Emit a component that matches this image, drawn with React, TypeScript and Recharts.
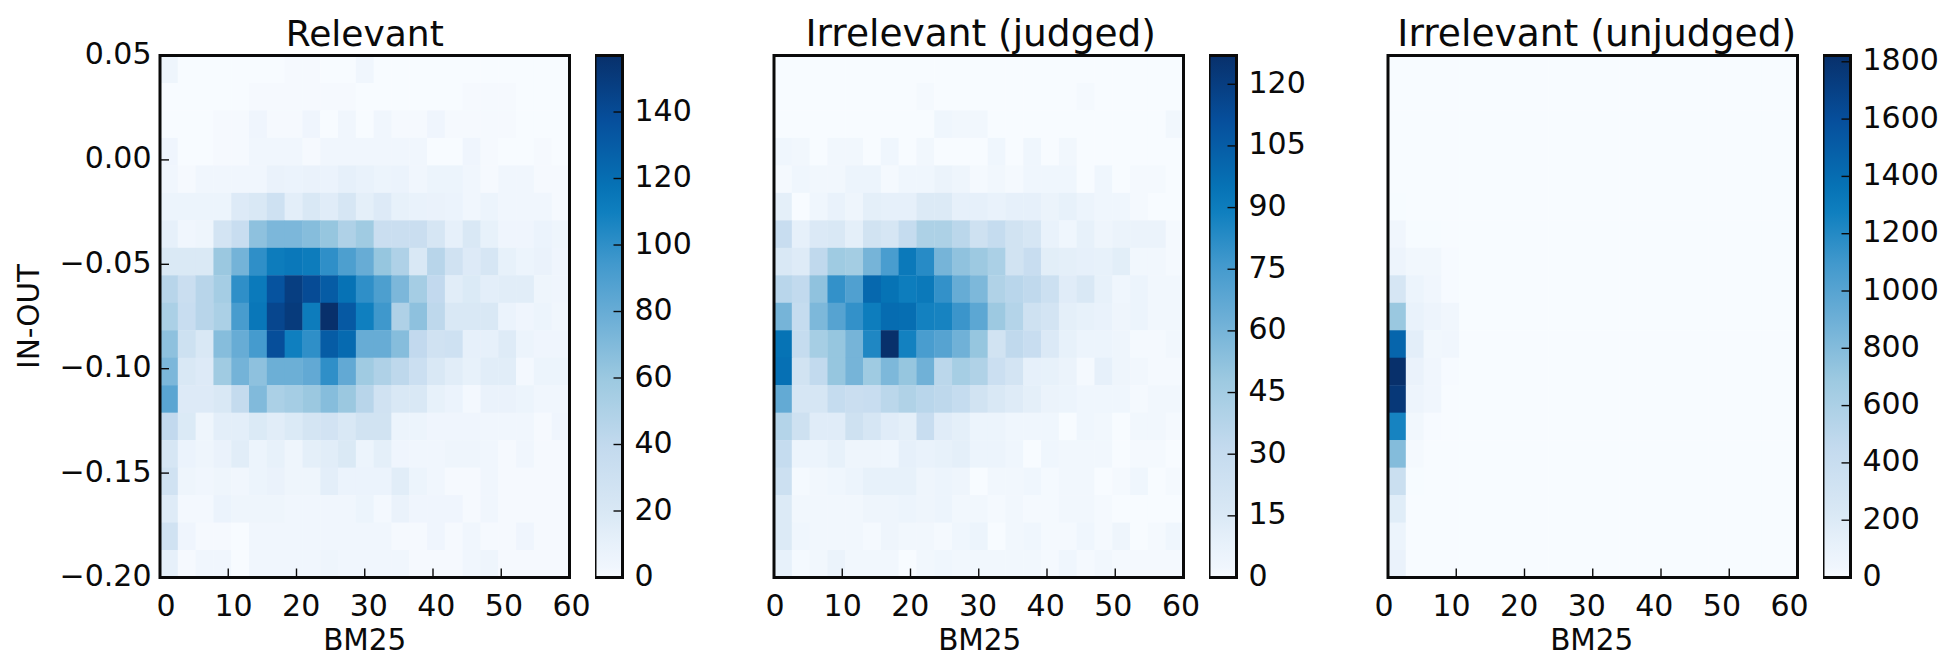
import React from 'react';
import { ScatterChart, Scatter, XAxis, YAxis, ReferenceArea, BarChart, Bar } from 'recharts';

const bm25Ticks = [0, 10, 20, 30, 40, 50, 60];
const inOutTicks = [-0.2, -0.15, -0.1, -0.05, 0, 0.05];
const BM25_DOMAIN: [number, number] = [0, 60];
const INOUT_DOMAIN: [number, number] = [-0.2, 0.05];

const relevantTicks = [0, 20, 40, 60, 80, 100, 120, 140];
const judgedTicks = [0, 15, 30, 45, 60, 75, 90, 105, 120];
const unjudgedTicks = [0, 200, 400, 600, 800, 1000, 1200, 1400, 1600, 1800];
const RELEVANT_MAX = 157;
const JUDGED_MAX = 127;
const UNJUDGED_MAX = 1822;

// rows from the top (IN-OUT 0.05) to the bottom (-0.20), 23 BM25 bins each
const relevant = [
  [5, 0, 0, 0, 0, 0, 0, 1, 1, 0, 0, 3, 0, 0, 0, 0, 0, 0, 0, 0, 0, 0, 0],
  [0, 0, 0, 0, 0, 1, 1, 1, 1, 1, 1, 0, 0, 0, 0, 0, 0, 1, 1, 1, 0, 0, 0],
  [0, 0, 0, 1, 1, 4, 1, 1, 4, 0, 3, 0, 3, 1, 1, 4, 1, 1, 1, 1, 0, 0, 0],
  [4, 0, 0, 1, 1, 3, 3, 3, 1, 3, 3, 3, 3, 3, 3, 0, 0, 4, 1, 0, 0, 1, 0],
  [3, 1, 3, 3, 3, 3, 8, 7, 8, 7, 11, 9, 6, 7, 3, 6, 6, 3, 1, 3, 3, 1, 1],
  [6, 6, 6, 6, 17, 20, 29, 13, 20, 15, 22, 12, 17, 10, 9, 8, 7, 3, 6, 3, 3, 3, 1],
  [11, 3, 5, 25, 35, 65, 72, 72, 68, 62, 50, 58, 33, 33, 33, 22, 11, 20, 10, 4, 4, 7, 5],
  [19, 19, 19, 60, 75, 100, 112, 114, 112, 100, 90, 80, 62, 50, 20, 45, 28, 17, 22, 10, 6, 8, 4],
  [45, 33, 45, 55, 100, 113, 135, 148, 140, 130, 118, 100, 90, 72, 55, 40, 14, 18, 13, 14, 14, 5, 4],
  [52, 35, 45, 52, 92, 115, 143, 150, 112, 157, 132, 110, 95, 50, 65, 42, 20, 20, 20, 7, 4, 6, 3],
  [65, 30, 20, 68, 80, 93, 138, 110, 100, 130, 122, 80, 80, 68, 40, 28, 29, 11, 11, 16, 6, 4, 4],
  [72, 20, 17, 58, 75, 65, 78, 78, 82, 100, 82, 58, 50, 42, 32, 20, 14, 10, 14, 14, 2, 6, 6],
  [85, 17, 17, 20, 38, 70, 52, 55, 60, 68, 60, 45, 28, 20, 20, 10, 7, 2, 8, 8, 6, 3, 3],
  [40, 18, 5, 13, 13, 18, 14, 18, 24, 26, 20, 27, 27, 6, 6, 4, 4, 4, 3, 3, 3, 1, 4],
  [22, 7, 5, 8, 14, 6, 10, 5, 12, 14, 19, 6, 12, 4, 3, 3, 5, 5, 3, 1, 3, 1, 1],
  [28, 5, 3, 5, 3, 6, 8, 5, 5, 13, 7, 7, 7, 14, 6, 3, 1, 1, 3, 1, 1, 1, 1],
  [16, 2, 2, 7, 5, 5, 5, 3, 3, 3, 3, 6, 2, 8, 4, 4, 4, 1, 3, 1, 1, 1, 1],
  [28, 4, 1, 1, 0, 3, 3, 3, 3, 3, 3, 3, 3, 1, 1, 4, 1, 3, 1, 1, 4, 1, 1],
  [11, 1, 3, 3, 0, 3, 3, 3, 3, 5, 3, 3, 3, 3, 1, 1, 1, 3, 5, 1, 1, 1, 1],
];

const judged = [
  [0, 0, 0, 0, 0, 0, 0, 0, 0, 0, 0, 0, 0, 0, 0, 0, 0, 0, 0, 0, 0, 0, 0],
  [0, 0, 0, 0, 0, 0, 0, 0, 1, 0, 0, 0, 0, 0, 0, 0, 0, 1, 0, 0, 0, 0, 0],
  [0, 0, 0, 0, 0, 0, 0, 0, 0, 3, 2, 2, 0, 0, 0, 0, 0, 0, 0, 0, 0, 0, 2],
  [3, 2, 0, 2, 2, 0, 3, 0, 2, 0, 0, 0, 3, 0, 3, 0, 2, 0, 0, 0, 0, 0, 0],
  [1, 3, 2, 2, 5, 5, 1, 3, 3, 6, 4, 1, 2, 1, 3, 3, 3, 0, 3, 0, 1, 1, 0],
  [10, 0, 3, 7, 4, 10, 9, 9, 14, 14, 9, 9, 7, 9, 9, 6, 8, 5, 3, 3, 1, 0, 0],
  [28, 9, 15, 16, 10, 22, 18, 30, 41, 41, 35, 24, 30, 22, 18, 7, 3, 8, 4, 6, 6, 6, 1],
  [16, 13, 33, 47, 45, 60, 74, 92, 83, 60, 52, 48, 42, 22, 28, 11, 10, 9, 8, 11, 2, 2, 1],
  [36, 32, 52, 80, 72, 100, 95, 90, 92, 80, 65, 58, 40, 36, 33, 25, 12, 16, 8, 3, 5, 2, 2],
  [60, 30, 58, 70, 80, 90, 98, 97, 88, 87, 78, 68, 48, 38, 24, 20, 10, 8, 7, 4, 5, 2, 2],
  [95, 30, 44, 50, 60, 85, 127, 88, 74, 70, 62, 50, 22, 33, 28, 15, 8, 5, 5, 4, 1, 1, 2],
  [96, 22, 32, 50, 60, 47, 58, 50, 62, 35, 44, 40, 26, 20, 9, 8, 6, 1, 9, 4, 2, 1, 1],
  [66, 18, 18, 30, 27, 28, 35, 40, 36, 34, 30, 22, 16, 13, 10, 6, 5, 3, 3, 3, 1, 2, 2],
  [38, 24, 12, 12, 24, 18, 12, 10, 28, 12, 10, 5, 5, 3, 3, 3, 0, 3, 2, 0, 2, 2, 1],
  [30, 5, 5, 8, 4, 4, 3, 9, 7, 8, 10, 5, 5, 3, 0, 3, 2, 2, 2, 0, 1, 1, 0],
  [25, 1, 2, 3, 5, 8, 8, 8, 4, 5, 4, 0, 2, 2, 3, 1, 2, 2, 0, 1, 3, 0, 1],
  [14, 2, 2, 2, 2, 4, 4, 5, 4, 5, 2, 2, 1, 2, 1, 1, 2, 2, 1, 0, 0, 0, 0],
  [14, 3, 2, 2, 2, 1, 4, 2, 2, 1, 3, 5, 0, 2, 3, 1, 1, 3, 1, 4, 0, 1, 3],
  [8, 1, 2, 6, 2, 2, 2, 0, 2, 3, 2, 2, 2, 2, 2, 1, 3, 1, 2, 1, 1, 1, 1],
];

const unjudged = [
  [0, 0, 0, 0, 0, 0, 0, 0, 0, 0, 0, 0, 0, 0, 0, 0, 0, 0, 0, 0, 0, 0, 0],
  [0, 0, 0, 0, 0, 0, 0, 0, 0, 0, 0, 0, 0, 0, 0, 0, 0, 0, 0, 0, 0, 0, 0],
  [0, 0, 0, 0, 0, 0, 0, 0, 0, 0, 0, 0, 0, 0, 0, 0, 0, 0, 0, 0, 0, 0, 0],
  [0, 0, 0, 0, 0, 0, 0, 0, 0, 0, 0, 0, 0, 0, 0, 0, 0, 0, 0, 0, 0, 0, 0],
  [0, 0, 0, 0, 0, 0, 0, 0, 0, 0, 0, 0, 0, 0, 0, 0, 0, 0, 0, 0, 0, 0, 0],
  [3, 0, 0, 0, 0, 0, 0, 0, 0, 0, 0, 0, 0, 0, 0, 0, 0, 0, 0, 0, 0, 0, 0],
  [36, 3, 3, 0, 0, 0, 0, 0, 0, 0, 0, 0, 0, 0, 0, 0, 0, 0, 0, 0, 0, 0, 0],
  [60, 30, 30, 4, 0, 0, 0, 0, 0, 0, 0, 0, 0, 0, 0, 0, 0, 0, 0, 0, 0, 0, 0],
  [260, 70, 35, 4, 0, 0, 0, 0, 0, 0, 0, 0, 0, 0, 0, 0, 0, 0, 0, 0, 0, 0, 0],
  [700, 100, 60, 35, 2, 0, 0, 0, 0, 0, 0, 0, 0, 0, 0, 0, 0, 0, 0, 0, 0, 0, 0],
  [1450, 150, 30, 35, 2, 0, 0, 0, 0, 0, 0, 0, 0, 0, 0, 0, 0, 0, 0, 0, 0, 0, 0],
  [1822, 90, 35, 4, 0, 0, 0, 0, 0, 0, 0, 0, 0, 0, 0, 0, 0, 0, 0, 0, 0, 0, 0],
  [1760, 60, 35, 0, 0, 0, 0, 0, 0, 0, 0, 0, 0, 0, 0, 0, 0, 0, 0, 0, 0, 0, 0],
  [1250, 30, 4, 0, 0, 0, 0, 0, 0, 0, 0, 0, 0, 0, 0, 0, 0, 0, 0, 0, 0, 0, 0],
  [800, 15, 0, 0, 0, 0, 0, 0, 0, 0, 0, 0, 0, 0, 0, 0, 0, 0, 0, 0, 0, 0, 0],
  [380, 3, 0, 0, 0, 0, 0, 0, 0, 0, 0, 0, 0, 0, 0, 0, 0, 0, 0, 0, 0, 0, 0],
  [170, 0, 0, 0, 0, 0, 0, 0, 0, 0, 0, 0, 0, 0, 0, 0, 0, 0, 0, 0, 0, 0, 0],
  [70, 0, 0, 0, 0, 0, 0, 0, 0, 0, 0, 0, 0, 0, 0, 0, 0, 0, 0, 0, 0, 0, 0],
  [95, 0, 0, 0, 0, 0, 0, 0, 0, 0, 0, 0, 0, 0, 0, 0, 0, 0, 0, 0, 0, 0, 0],
];

const FONT = '"DejaVu Sans"';
const TICK_FONT = 30;
const LABEL_FONT = 29.5;
const INK = '#0a0a0a';
const PLOT_W = 409.5;
const TOP = 55.5;
const BOTTOM = 79.5;
const HEIGHT = 657;
const PLOT_H = HEIGHT - TOP - BOTTOM;
const LEFT_GUTTER = 160;
const RIGHT_GUTTER = 40;
const NCOLS = 23;
const NROWS = 19;
const CELL_W = PLOT_W / NCOLS;
const CELL_H = PLOT_H / NROWS;
const FRAME = 3;
const TICK_LINE = { stroke: INK, strokeWidth: 1.4 };

const RAMP: [number, string][] = [
  [0, '#f7fbff'], [0.02, '#f0f6fd'], [0.07, '#e6f0fa'], [0.125, '#d9e8f5'], [0.25, '#c3daee'], [0.375, '#9ecae1'], [0.5, '#6baed6'],
  [0.6, '#4299cd'], [0.7, '#0f7fbf'], [0.75, '#0672b5'], [0.875, '#064f9c'], [1, '#08306b'],
];

function hex(c: string) {
  return [1, 3, 5].map((i) => parseInt(c.slice(i, i + 2), 16));
}
function colorAt(t: number) {
  const f = Math.max(0, Math.min(1, t));
  for (let i = 1; i < RAMP.length; i++) {
    if (f <= RAMP[i][0]) {
      const [t0, c0] = RAMP[i - 1];
      const [t1, c1] = RAMP[i];
      const k = (f - t0) / (t1 - t0);
      const a = hex(c0);
      const b = hex(c1);
      return `rgb(${a.map((v, j) => Math.round(v + (b[j] - v) * k)).join(',')})`;
    }
  }
  return RAMP[RAMP.length - 1][1];
}

function toCells(matrix: number[][]) {
  const out: { x: number; y: number; v: number }[] = [];
  const dx = (BM25_DOMAIN[1] - BM25_DOMAIN[0]) / NCOLS;
  const dy = (INOUT_DOMAIN[1] - INOUT_DOMAIN[0]) / NROWS;
  matrix.forEach((row, r) =>
    row.forEach((v, c) => {
      out.push({ x: BM25_DOMAIN[0] + (c + 0.5) * dx, y: INOUT_DOMAIN[1] - (r + 0.5) * dy, v });
    }),
  );
  return out;
}

const minus = (v: number, d: number) => v.toFixed(d).replace('-', '\u2212');
const noMark = () => null;

type PanelProps = {
  title: string;
  titleFont: number;
  matrix: number[][];
  max: number;
  left: number;
  titleDx: number;
  xLabelDx: number;
  labelShift: [number, number];
  showY: boolean;
};

function Panel({ title, titleFont, matrix, max, left, titleDx, xLabelDx, labelShift, showY }: PanelProps) {
  const cells = toCells(matrix);
  const width = LEFT_GUTTER + PLOT_W + RIGHT_GUTTER;
  const shape = (p: any) => (
    <rect
      x={p.cx - CELL_W / 2}
      y={p.cy - CELL_H / 2}
      width={CELL_W + 0.4}
      height={CELL_H + 0.4}
      fill={colorAt(p.payload.v / max)}
    />
  );
  const xTick = (p: any) => {
    const v = p.payload.value;
    const shift = labelShift[0] + ((labelShift[1] - labelShift[0]) * v) / 60;
    return (
      <text x={p.x + shift} y={p.y + 47} textAnchor="middle" fontFamily={FONT} fontSize={TICK_FONT} fill={INK}>
        {v}
      </text>
    );
  };
  const yTick = (p: any) => (
    <text x={p.x - 17.5} y={p.y + 8.5} textAnchor="end" fontFamily={FONT} fontSize={TICK_FONT} fill={INK}>
      {minus(p.payload.value, 2)}
    </text>
  );
  return (
    <>
      <div style={{ position: 'absolute', left: left - LEFT_GUTTER, top: 0 }}>
        <ScatterChart
          width={width}
          height={HEIGHT}
          margin={{ top: TOP, right: RIGHT_GUTTER, bottom: BOTTOM, left: LEFT_GUTTER }}
        >
          <XAxis xAxisId="b" dataKey="x" type="number" domain={BM25_DOMAIN} hide />
          <YAxis yAxisId="l" dataKey="y" type="number" domain={INOUT_DOMAIN} hide />
          <Scatter data={cells} xAxisId="b" yAxisId="l" isAnimationActive={false} shape={shape} />
        </ScatterChart>
      </div>
      <div style={{ position: 'absolute', left: left - LEFT_GUTTER, top: 0 }}>
        <ScatterChart width={width} height={HEIGHT} margin={{ top: 0, right: RIGHT_GUTTER - 1, bottom: 0, left: 0 }}>
          <XAxis
            xAxisId="b"
            dataKey="x"
            type="number"
            orientation="bottom"
            domain={BM25_DOMAIN}
            ticks={bm25Ticks}
            interval={0}
            height={BOTTOM}
            axisLine={false}
            tickSize={-9}
            tickMargin={0}
            tickLine={TICK_LINE}
            tick={xTick}
            label={{
              content: () => (
                <text
                  x={LEFT_GUTTER + PLOT_W / 2 + xLabelDx}
                  y={650}
                  textAnchor="middle"
                  fontFamily={FONT}
                  fontSize={LABEL_FONT}
                  fill={INK}
                >
                  BM25
                </text>
              ),
            }}
          />
          <XAxis
            xAxisId="t"
            dataKey="x"
            type="number"
            orientation="top"
            domain={BM25_DOMAIN}
            ticks={bm25Ticks}
            interval={0}
            height={TOP}
            axisLine={false}
            tickSize={-9}
            tickLine={TICK_LINE}
            tick={false}
            label={{
              content: () => (
                <text
                  x={LEFT_GUTTER + PLOT_W / 2 + titleDx}
                  y={46}
                  textAnchor="middle"
                  fontFamily={FONT}
                  fontSize={titleFont}
                  fill={INK}
                >
                  {title}
                </text>
              ),
            }}
          />
          <YAxis
            yAxisId="l"
            dataKey="y"
            type="number"
            orientation="left"
            domain={INOUT_DOMAIN}
            ticks={inOutTicks}
            interval={0}
            width={LEFT_GUTTER}
            axisLine={false}
            tickSize={-9}
            tickMargin={0}
            tickLine={showY ? TICK_LINE : false}
            tick={showY ? yTick : false}
            label={
              showY
                ? {
                    content: () => (
                      <text
                        transform={`translate(39,${TOP + PLOT_H / 2}) rotate(-90)`}
                        textAnchor="middle"
                        fontFamily={FONT}
                        fontSize={LABEL_FONT}
                        fill={INK}
                      >
                        IN-OUT
                      </text>
                    ),
                  }
                : undefined
            }
          />
          <YAxis
            yAxisId="r"
            dataKey="y"
            type="number"
            orientation="right"
            domain={INOUT_DOMAIN}
            ticks={inOutTicks}
            interval={0}
            width={1}
            axisLine={false}
            tickSize={-9}
            tickLine={showY ? TICK_LINE : false}
            tick={false}
          />
          <Scatter data={cells} xAxisId="b" yAxisId="l" isAnimationActive={false} shape={noMark} />
          <Scatter data={cells} xAxisId="t" yAxisId="r" isAnimationActive={false} shape={noMark} />
          <ReferenceArea
            xAxisId="b"
            yAxisId="l"
            x1={BM25_DOMAIN[0]}
            x2={BM25_DOMAIN[1]}
            y1={INOUT_DOMAIN[0]}
            y2={INOUT_DOMAIN[1]}
            fill="none"
            stroke={INK}
            strokeWidth={FRAME}
          />
        </ScatterChart>
      </div>
    </>
  );
}

const CB_W = 27.5;

function ColorBar({ id, max, ticks, left }: { id: string; max: number; ticks: number[]; left: number }) {
  const data = [{ name: id, value: max }];
  const tick = (p: any) => (
    <text x={p.x + 21} y={p.y + 8.5} textAnchor="start" fontFamily={FONT} fontSize={TICK_FONT} fill={INK}>
      {p.payload.value}
    </text>
  );
  const right = 110;
  return (
    <>
      <div style={{ position: 'absolute', left, top: 0 }}>
        <BarChart
          width={CB_W + right}
          height={HEIGHT}
          data={data}
          margin={{ top: TOP, right, bottom: BOTTOM, left: 0 }}
          barCategoryGap={0}
        >
          <defs>
            <linearGradient id={id} x1="0" y1="1" x2="0" y2="0">
              {RAMP.map(([o, c]) => (
                <stop key={o} offset={o} stopColor={c} />
              ))}
            </linearGradient>
          </defs>
          <XAxis dataKey="name" hide />
          <YAxis type="number" domain={[0, max]} hide />
          <Bar dataKey="value" fill={`url(#${id})`} isAnimationActive={false} />
        </BarChart>
      </div>
      <div style={{ position: 'absolute', left, top: 0 }}>
        <BarChart
          width={CB_W + right}
          height={HEIGHT}
          data={data}
          margin={{ top: TOP, right: right - 1, bottom: BOTTOM, left: 0 }}
        >
          <XAxis dataKey="name" hide />
          <YAxis
            type="number"
            orientation="right"
            domain={[0, max]}
            ticks={ticks}
            interval={0}
            width={1}
            axisLine={false}
            tickSize={-9}
            tickMargin={0}
            tickLine={TICK_LINE}
            tick={tick}
          />
          <Bar dataKey="value" fill="none" isAnimationActive={false} />
          <ReferenceArea y1={0} y2={max} fill="none" stroke={INK} strokeWidth={FRAME} />
        </BarChart>
      </div>
    </>
  );
}

export default function App() {
  return (
    <div style={{ position: 'absolute', left: 0, top: 0, width: 1944, height: HEIGHT, overflow: 'hidden', background: '#fff' }}>
      <Panel title="Relevant" titleFont={36} matrix={relevant} max={RELEVANT_MAX} left={160} titleDx={0} xLabelDx={0} labelShift={[6, 2]} showY />
      <ColorBar id="cbRel" max={RELEVANT_MAX} ticks={relevantTicks} left={595} />
      <Panel title="Irrelevant (judged)" titleFont={37.5} matrix={judged} max={JUDGED_MAX} left={774} titleDx={2} xLabelDx={1} labelShift={[1, -2.5]} showY={false} />
      <ColorBar id="cbJud" max={JUDGED_MAX} ticks={judgedTicks} left={1209} />
      <Panel title="Irrelevant (unjudged)" titleFont={37.6} matrix={unjudged} max={UNJUDGED_MAX} left={1388} titleDx={4} xLabelDx={-1} labelShift={[-4, -8]} showY={false} />
      <ColorBar id="cbUnj" max={UNJUDGED_MAX} ticks={unjudgedTicks} left={1823} />
    </div>
  );
}
